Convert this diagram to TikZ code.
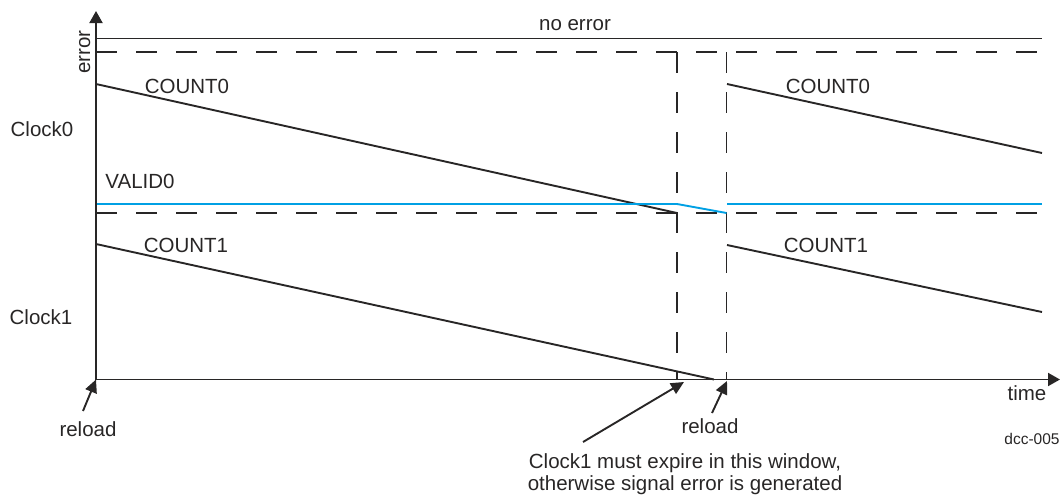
\documentclass[tikz,border=0pt]{standalone}
\usepackage{fontspec}
\setmainfont{Liberation Sans}
\usetikzlibrary{arrows.meta}
\definecolor{ink}{RGB}{40,38,38}
\definecolor{validc}{RGB}{0,160,228}
\tikzset{
  lbl/.style={anchor=base, inner sep=0pt, text=ink, font=\fontsize{20.5}{24}\selectfont},
  small/.style={anchor=base, inner sep=0pt, text=ink, font=\fontsize{15.5}{18}\selectfont},
  ln/.style={draw=ink, line width=1.9pt},
  dsh/.style={draw=ink, line width=1.9pt, dash pattern=on 21pt off 19pt},
  axis/.style={draw=ink, line width=1.9pt, -{Triangle[length=12pt,width=13pt]}},
  pointer/.style={draw=ink, line width=1.9pt, -{Triangle[length=13pt,width=12pt]}},
  sig/.style={draw=validc, line width=1.9pt}
}
\begin{document}
\begin{tikzpicture}[x=1pt,y=-1pt]
\useasboundingbox (0,0) rectangle (1062,496);
% coordinates
\coordinate (O) at (96,379.5);
\coordinate (Ytop) at (96,11);
\coordinate (Xend) at (1060,379.5);
\coordinate (NEl) at (96,38.5);
\coordinate (NEr) at (1042,38.5);
\coordinate (TDl) at (96,52);
\coordinate (TDr) at (1042,52);
\coordinate (BDl) at (96,213);
\coordinate (BDr) at (1042,213);
\coordinate (W1t) at (677,52);
\coordinate (W1b) at (677,379.5);
\coordinate (W2t) at (726.5,52);
\coordinate (W2b) at (726.5,379.5);
\coordinate (C0a) at (96,84);
\coordinate (C0b) at (677,213);
\coordinate (C0c) at (727,84);
\coordinate (C0d) at (1042,153);
\coordinate (C1a) at (96,244);
\coordinate (C1b) at (714,379.5);
\coordinate (C1c) at (727,245);
\coordinate (C1d) at (1042,312);
\coordinate (V0a) at (96,204);
\coordinate (V0b) at (677,204);
\coordinate (V0c) at (726.5,213);
\coordinate (V0d) at (727,204);
\coordinate (V0e) at (1042,204);
\coordinate (R1s) at (83,411);
\coordinate (R2s) at (712,413);
\coordinate (R2t) at (727,381);
\coordinate (Ns) at (583,442);
\coordinate (Nt) at (684,382);
% dashed thresholds and window
\draw[dsh] (TDl) -- (TDr);
\draw[dsh] (BDl) -- (BDr);
\draw[dsh] (W1t) -- (W1b);
\draw[dsh] (W2t) -- (W2b);
% no error line
\draw[ln] (NEl) -- (NEr);
% counters
\draw[ln] (C0a) -- (C0b);
\draw[ln] (C0c) -- (C0d);
\draw[ln] (C1a) -- (C1b);
\draw[ln] (C1c) -- (C1d);
% valid
\draw[sig] (V0a) -- (V0b) -- (V0c);
\draw[sig] (V0d) -- (V0e);
% axes
\draw[axis] (O) -- (Ytop);
\draw[axis] (O) -- (Xend);
% pointers
\draw[pointer] (R1s) -- (O);
\draw[pointer] (R2s) -- (R2t);
\draw[pointer] (Ns) -- (Nt);
% labels
\node[lbl] (noerr) at (575,30) {no error};
\node[lbl, rotate=90] (err) at (90,52) {error};
\node[lbl] (c0l) at (187,93) {COUNT0};
\node[lbl] (c0r) at (828,93) {COUNT0};
\node[lbl] (clk0) at (42,136) {Clock0};
\node[lbl] (v0) at (140,188) {VALID0};
\node[lbl] (c1l) at (186,252) {COUNT1};
\node[lbl] (c1r) at (826,252) {COUNT1};
\node[lbl] (clk1) at (41,324) {Clock1};
\node[lbl] (time) at (1027,400) {time};
\node[lbl] (rl1) at (88,436) {reload};
\node[lbl] (rl2) at (710,433) {reload};
\node[small] (dcc) at (1032,444) {dcc-005};
\node[lbl] (note1) at (685,468) {Clock1 must expire in this window,};
\node[lbl] (note2) at (685,490) {otherwise signal error is generated};
\end{tikzpicture}
\end{document}
